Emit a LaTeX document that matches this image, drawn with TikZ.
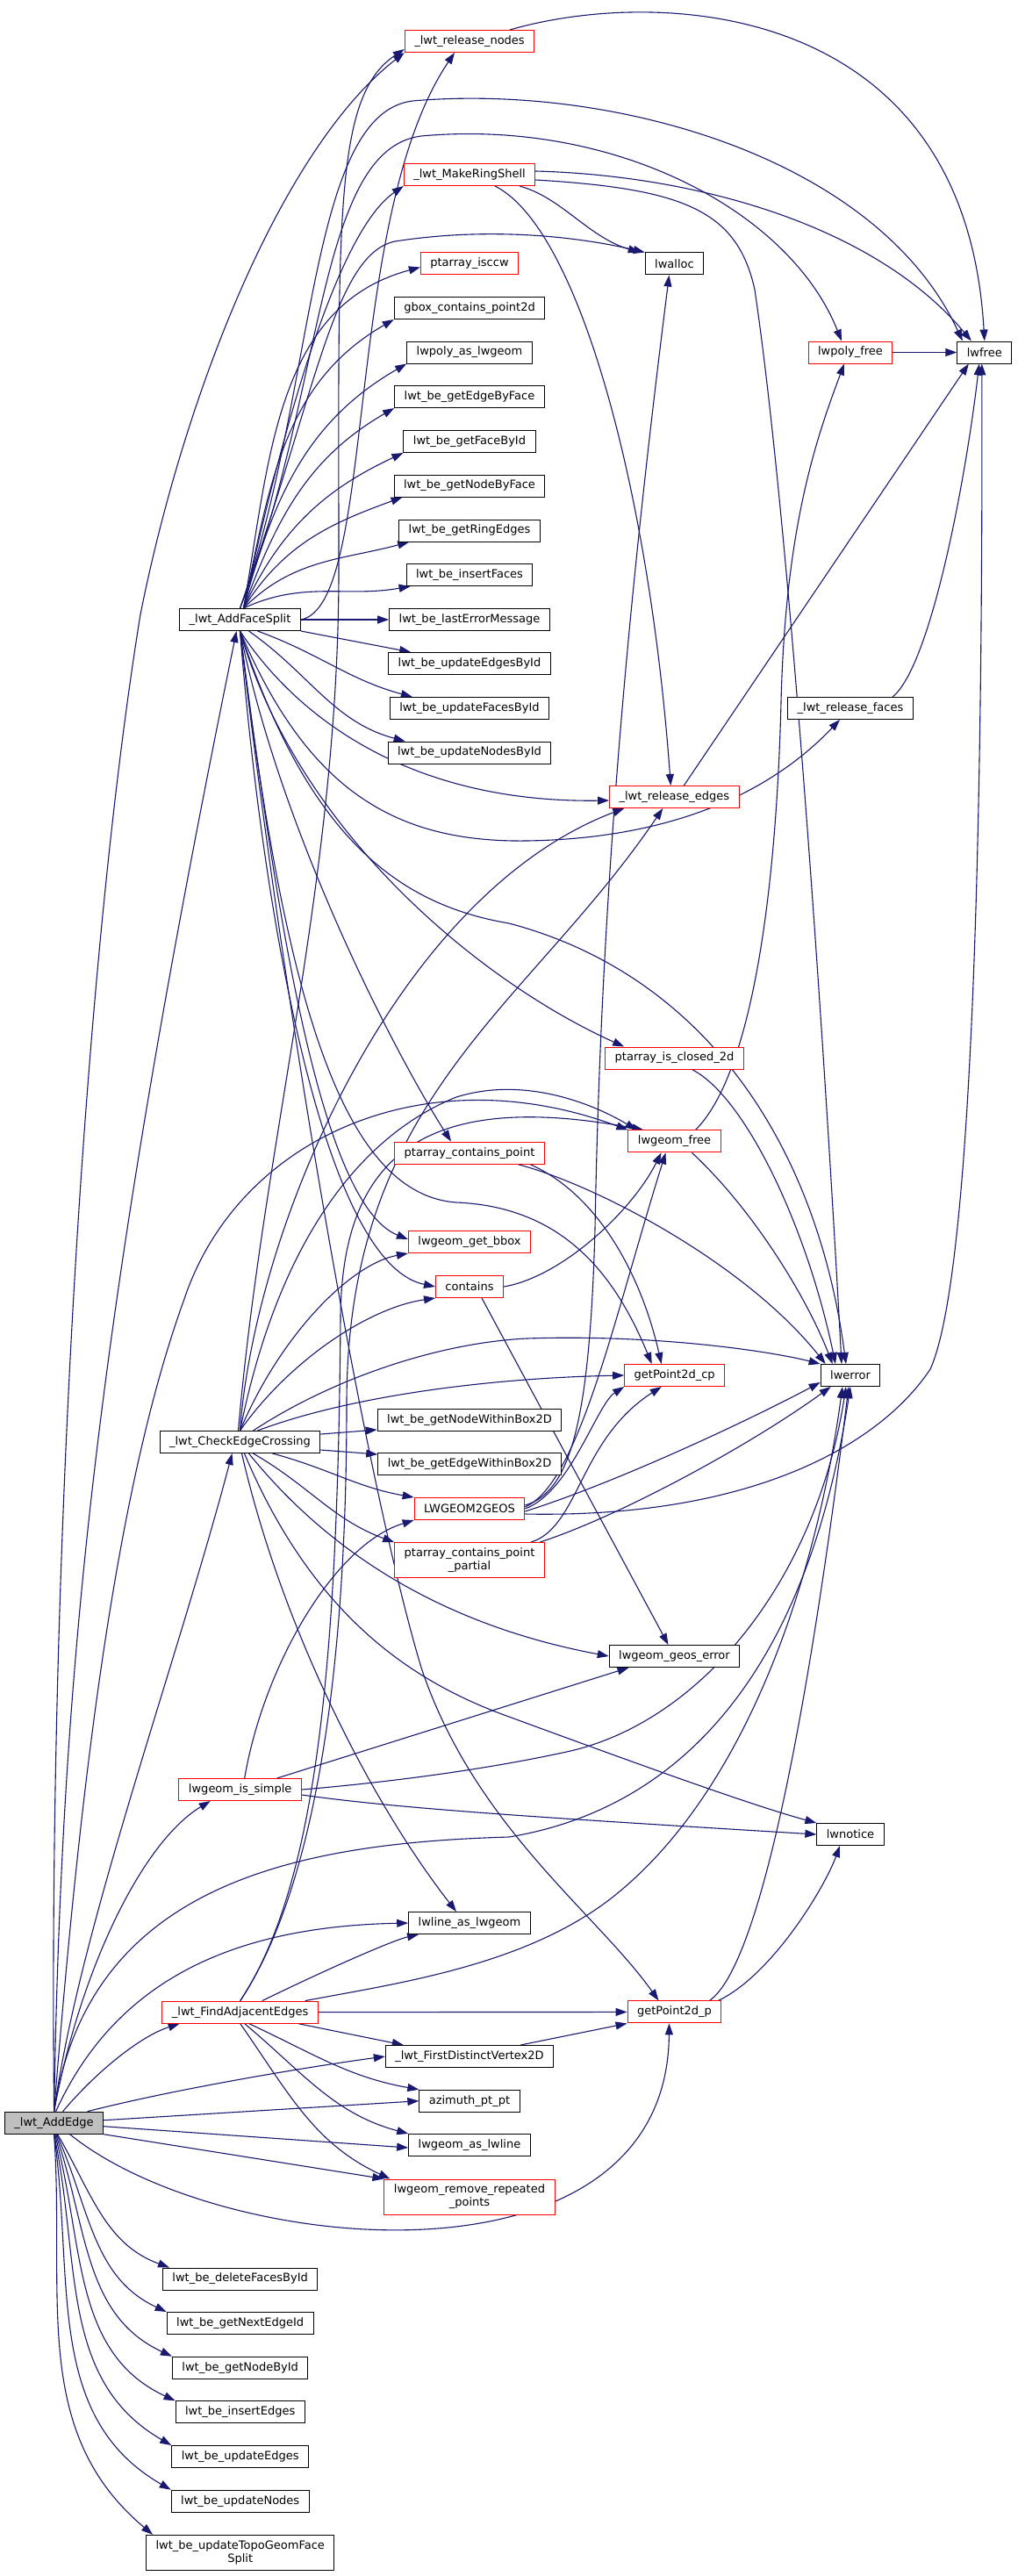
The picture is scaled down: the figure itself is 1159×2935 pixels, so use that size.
\documentclass[tikz,border=0pt]{standalone}
\usepackage{fontspec}
\setmainfont{DejaVu Sans}
\usetikzlibrary{arrows.meta,backgrounds}
\definecolor{edgeblue}{HTML}{191970}
\definecolor{boxred}{HTML}{FF0000}
\definecolor{rootgray}{HTML}{BFBFBF}

\begin{document}
\begin{tikzpicture}[x=1pt,y=-1pt,
    fn/.style={draw=black,line width=1pt,fill=white,inner xsep=11pt,inner ysep=0pt,
               minimum height=25pt,font=\fontsize{13}{15}\selectfont},
    fnred/.style={fn,draw=boxred},
    fnroot/.style={fn,fill=rootgray},
    call/.style={draw=edgeblue,line width=1.1pt,-{Triangle[length=13pt,width=9pt]}}]
      \useasboundingbox (0,0) rectangle (1159,2935);
      % root and left column
      \node[fnroot] (ae) at (61.6,2418.7) {\_lwt\_AddEdge};
      \node[fn] (afs) at (273.5,706) {\_lwt\_AddFaceSplit};
      \node[fn] (ces) at (273.5,1643) {\_lwt\_CheckEdgeCrossing};
      \node[fnred] (issimple) at (273.7,2039) {lwgeom\_is\_simple};
      \node[fnred] (fae) at (273.7,2292.6) {\_lwt\_FindAdjacentEdges};
      \node[fn] (delfaces) at (273.7,2596.5) {lwt\_be\_deleteFacesById};
      \node[fn] (nextedge) at (273.7,2647) {lwt\_be\_getNextEdgeId};
      \node[fn] (nodeid) at (273.7,2697.7) {lwt\_be\_getNodeById};
      \node[fn] (insedges) at (273.7,2748.3) {lwt\_be\_insertEdges};
      \node[fn] (updedges) at (273.7,2799) {lwt\_be\_updateEdges};
      \node[fn] (updnodes) at (273.7,2849.7) {lwt\_be\_updateNodes};
      \node[fn,minimum height=40pt,align=center] (topoface) at (273.7,2908.3) {lwt\_be\_updateTopoGeomFace\\Split};
      % middle column
      \node[fnred] (rnodes) at (535,47) {\_lwt\_release\_nodes};
      \node[fnred] (mkring) at (535,199) {\_lwt\_MakeRingShell};
      \node[fnred] (isccw) at (535,300.5) {ptarray\_isccw};
      \node[fn] (gbox) at (535,351) {gbox\_contains\_point2d};
      \node[fn] (polyas) at (535,401.5) {lwpoly\_as\_lwgeom};
      \node[fn] (edgeface) at (535,452) {lwt\_be\_getEdgeByFace};
      \node[fn] (faceid) at (535,503) {lwt\_be\_getFaceById};
      \node[fn] (nodeface) at (535,553.5) {lwt\_be\_getNodeByFace};
      \node[fn] (ringedges) at (535,604.5) {lwt\_be\_getRingEdges};
      \node[fn] (insfaces) at (535,655) {lwt\_be\_insertFaces};
      \node[fn] (lasterr) at (535,706) {lwt\_be\_lastErrorMessage};
      \node[fn] (updedgesid) at (535,756) {lwt\_be\_updateEdgesById};
      \node[fn] (updfacesid) at (535,807) {lwt\_be\_updateFacesById};
      \node[fn] (updnodesid) at (535,857.5) {lwt\_be\_updateNodesById};
      \node[fnred] (containspt) at (535,1313.6) {ptarray\_contains\_point};
      \node[fnred] (bbox) at (535,1415) {lwgeom\_get\_bbox};
      \node[fnred] (contains) at (535,1466) {contains};
      \node[fn] (nodewithin) at (535,1618) {lwt\_be\_getNodeWithinBox2D};
      \node[fn] (edgewithin) at (535,1668) {lwt\_be\_getEdgeWithinBox2D};
      \node[fnred] (togeos) at (535,1719) {LWGEOM2GEOS};
      \node[fnred,minimum height=40pt,align=center] (partial) at (535,1777.6) {ptarray\_contains\_point\\\_partial};
      \node[fn] (lineas) at (535,2191) {lwline\_as\_lwgeom};
      \node[fn] (firstvtx) at (535,2343) {\_lwt\_FirstDistinctVertex2D};
      \node[fn] (azimuth) at (535,2393.7) {azimuth\_pt\_pt};
      \node[fn] (asline) at (535,2444) {lwgeom\_as\_lwline};
      \node[fnred,minimum height=40pt,align=center] (rmrep) at (535,2503) {lwgeom\_remove\_repeated\\\_points};
      % right columns
      \node[fn] (lwalloc) at (768.5,300.5) {lwalloc};
      \node[fnred] (redges) at (768.3,908) {\_lwt\_release\_edges};
      \node[fnred] (isclosed) at (768.5,1205.5) {ptarray\_is\_closed\_2d};
      \node[fnred] (lgfree) at (768.5,1300.4) {lwgeom\_free};
      \node[fnred] (gpcp) at (768.7,1567) {getPoint2d\_cp};
      \node[fn] (geoserr) at (768.5,1887) {lwgeom\_geos\_error};
      \node[fnred] (gp) at (768.5,2292.4) {getPoint2d\_p};
      \node[fnred] (polyfree) at (969,401.5) {lwpoly\_free};
      \node[fn] (rfaces) at (969,807) {\_lwt\_release\_faces};
      \node[fn] (lwerror) at (969,1567) {lwerror};
      \node[fn] (lwnotice) at (969,2090) {lwnotice};
      \node[fn] (lwfree) at (1121.8,401.5) {lwfree};

      \begin{scope}[on background layer]
        \fill[white] (0,0) rectangle (1159,2935);
        % calls of _lwt_AddEdge
        \draw[call] (ae.north) .. controls (55,1800) and (95,1100) .. (160,700) .. controls (210,450) and (320,170) .. (rnodes.south west);
        \draw[call] (ae.north) .. controls (70,1900) and (110,1500) .. ([xshift=-4pt]afs.south);
        \draw[call] (ae.north) .. controls (90,2050) and (130,1700) .. (210,1480) .. controls (270,1300) and (480,1200) .. (lgfree.north west);
        \draw[call] (ae.north) .. controls (90,2200) and (200,1900) .. ([xshift=-9pt]ces.south);
        \draw[call] (ae.north) .. controls (100,2150) and (330,2100) .. (580,2093) .. controls (780,2060) and (920,1900) .. (lwerror.south);
        \draw[call] (ae.north) .. controls (90,2250) and (160,2100) .. ([xshift=-34pt]issimple.south);
        \draw[call] ([xshift=10pt]ae.north) .. controls (110,2360) and (160,2320) .. ([xshift=-69pt]fae.south);
        \draw[call] ([xshift=2pt]ae.north) .. controls (130,2260) and (260,2195) .. (lineas.west);
        \draw[call] ([xshift=38pt]ae.north) .. controls (200,2380) and (350,2355) .. (firstvtx.west);
        \draw[call] ([yshift=3pt]ae.east) -- (azimuth.west);
        \draw[call] ([yshift=-4pt]ae.east) -- ([yshift=-3pt]asline.west);
        \draw[call] (ae.south east) -- (rmrep.north west);
        \draw[call] ([xshift=18pt]ae.south) .. controls (250,2570) and (760,2620) .. ([xshift=-6pt]gp.south);
        \draw[call] ([xshift=4pt]ae.south) to[out=-60,in=160] ([xshift=8pt]delfaces.north west);
        \draw[call] ([xshift=3pt]ae.south) to[out=-66,in=155] (nextedge.north west);
        \draw[call] ([xshift=2pt]ae.south) to[out=-71,in=155] (nodeid.north west);
        \draw[call] ([xshift=1pt]ae.south) to[out=-75,in=155] (insedges.north west);
        \draw[call] (ae.south) to[out=-78,in=150] (updedges.north west);
        \draw[call] (ae.south) to[out=-82,in=150] (updnodes.north west);
        \draw[call] (ae.south) to[out=-86,in=140] ([xshift=8pt]topoface.north west);
        % calls of _lwt_AddFaceSplit
        \draw[call] (afs.east) .. controls (430,690) and (390,250) .. ([xshift=-17pt]rnodes.south);
        \draw[call] ([xshift=4pt]afs.north) .. controls (330,450) and (390,260) .. (mkring.south west);
        \draw[call] (afs.north) .. controls (360,450) and (350,130) .. (470,115) .. controls (700,95) and (1000,180) .. ([xshift=-25pt]lwfree.north);
        \draw[call] (afs.north) .. controls (370,450) and (360,170) .. (480,155) .. controls (700,135) and (900,240) .. ([xshift=-10pt]polyfree.north);
        \draw[call] (afs.north) .. controls (360,450) and (380,290) .. (450,275) .. controls (560,258) and (660,270) .. (lwalloc.north west);
        \draw[call] ([xshift=4pt]afs.north) to[out=80,in=195] ([yshift=-4pt]isccw.west);
        \draw[call] ([xshift=4pt]afs.north) to[out=78,in=210] (gbox.south west);
        \draw[call] ([xshift=4pt]afs.north) to[out=75,in=210] (polyas.south west);
        \draw[call] ([xshift=4pt]afs.north) to[out=70,in=210] (edgeface.south west);
        \draw[call] ([xshift=4pt]afs.north) to[out=65,in=205] (faceid.south west);
        \draw[call] ([xshift=4pt]afs.north) to[out=58,in=200] ([xshift=10pt]nodeface.south west);
        \draw[call] ([xshift=4pt]afs.north) to[out=45,in=195] ([xshift=12pt]ringedges.south west);
        \draw[call] ([xshift=4pt]afs.north) to[out=25,in=190] ([xshift=5pt]insfaces.south west);
        \draw[call] (afs.east) -- (lasterr.west);
        \draw[call] (afs.south east) -- ([xshift=26pt]updedgesid.north west);
        \draw[call] ([xshift=20pt]afs.south) to[out=-20,in=165] ([xshift=26pt]updfacesid.north west);
        \draw[call] ([xshift=10pt]afs.south) to[out=-35,in=165] ([xshift=20pt]updnodesid.north west);
        \draw[call] (afs.south) .. controls (340,820) and (470,915) .. ([yshift=-4pt]redges.west);
        \draw[call] (afs.south) .. controls (350,900) and (450,960) .. (600,958) .. controls (800,955) and (900,880) .. ([xshift=-12pt]rfaces.south);
        \draw[call] (afs.south) .. controls (350,950) and (450,1030) .. (580,1052) .. controls (800,1110) and (930,1300) .. ([xshift=-5pt]lwerror.north);
        \draw[call] (afs.south) .. controls (340,950) and (550,1120) .. ([xshift=22pt]isclosed.north west);
        \draw[call] (afs.south) .. controls (320,950) and (450,1200) .. ([xshift=-21pt]containspt.north);
        \draw[call] (afs.south) .. controls (310,1000) and (360,1370) .. ([yshift=3pt]bbox.west);
        \draw[call] (afs.south) .. controls (300,1050) and (370,1440) .. (contains.west);
        \draw[call] (afs.south) .. controls (320,1100) and (380,1360) .. (520,1370) .. controls (640,1375) and (700,1450) .. ([xshift=-26pt]gpcp.north);
        \draw[call] (afs.south) .. controls (330,1200) and (420,1700) .. (480,1900) .. controls (540,2080) and (680,2180) .. ([xshift=-18pt]gp.north);
        % calls of _lwt_CheckEdgeCrossing
        \draw[call] ([xshift=-2pt]ces.north) .. controls (300,1300) and (386,1000) .. (386,650) .. controls (386,250) and (380,110) .. ([yshift=4pt]rnodes.south west);
        \draw[call] (ces.north) .. controls (290,1400) and (450,1020) .. ([xshift=-57pt]redges.south);
        \draw[call] (ces.north) .. controls (320,1400) and (420,1290) .. (520,1250) .. controls (600,1225) and (680,1260) .. ([xshift=10pt]lgfree.north west);
        \draw[call] (ces.north) .. controls (320,1520) and (400,1440) .. (bbox.south west);
        \draw[call] (ces.north) .. controls (330,1550) and (420,1490) .. (contains.south west);
        \draw[call] ([xshift=15pt]ces.north) .. controls (380,1570) and (500,1530) .. (600,1525) .. controls (750,1520) and (880,1540) .. (lwerror.north west);
        \draw[call] ([xshift=20pt]ces.north) .. controls (400,1590) and (560,1570) .. (gpcp.west);
        \draw[call] ([yshift=9pt]ces.east) -- ([yshift=-11pt]nodewithin.west);
        \draw[call] ([yshift=-9pt]ces.east) -- ([yshift=11pt]edgewithin.west);
        \draw[call] ([xshift=37pt]ces.south) to[out=-15,in=170] (togeos.north west);
        \draw[call] ([xshift=15pt]ces.south) to[out=-30,in=160] (partial.north west);
        \draw[call] ([xshift=10pt]ces.south) .. controls (400,1800) and (550,1860) .. (geoserr.west);
        \draw[call] ([xshift=5pt]ces.south) .. controls (360,1850) and (480,1920) .. (580,1956) .. controls (700,2000) and (850,2055) .. (lwnotice.north west);
        \draw[call] ([xshift=2pt]ces.south) .. controls (320,1850) and (420,2050) .. ([xshift=-15pt]lineas.north);
        % calls of lwgeom_is_simple
        \draw[call] ([xshift=5pt]issimple.north) .. controls (300,1900) and (380,1760) .. (togeos.south west);
        \draw[call] ([xshift=42pt]issimple.north) -- ([xshift=-52pt]geoserr.south);
        \draw[call] (issimple.east) .. controls (450,2030) and (560,2015) .. (650,1995) .. controls (800,1960) and (930,1800) .. ([xshift=-5pt]lwerror.south);
        \draw[call] ([yshift=-6pt]issimple.east) .. controls (450,2060) and (600,2070) .. (lwnotice.west);
        % calls of _lwt_FindAdjacentEdges
        \draw[call] ([xshift=25pt]fae.north) .. controls (380,2240) and (450,2210) .. ([xshift=-58pt]lineas.south);
        \draw[call] ([xshift=74pt]fae.north) .. controls (450,2260) and (600,2240) .. (700,2160) .. controls (850,2040) and (930,1800) .. ([xshift=-9pt]lwerror.south);
        \draw[call] (fae.east) -- (gp.west);
        \draw[call] ([xshift=66pt]fae.south) -- ([xshift=21pt]firstvtx.north west);
        \draw[call] ([xshift=10pt]fae.south) to[out=-25,in=170] (azimuth.north west);
        \draw[call] ([xshift=5pt]fae.south) to[out=-40,in=165] (asline.north west);
        \draw[call] (fae.south) to[out=-55,in=155] ([xshift=7pt]rmrep.north west);
        \draw[call] (fae.north) .. controls (360,2150) and (395,1900) .. (395,1600) .. controls (395,1250) and (600,1150) .. ([xshift=-13pt]redges.south);
        \draw[call] (fae.north) .. controls (360,2150) and (385,1900) .. (388,1500) .. controls (390,1320) and (480,1240) .. ([xshift=18pt]lgfree.north west);
        % calls of _lwt_MakeRingShell
        \draw[call] ([xshift=57pt]mkring.south) .. controls (640,225) and (670,270) .. ([xshift=-6pt]lwalloc.north west);
        \draw[call] ([yshift=4pt]mkring.east) .. controls (800,200) and (1000,260) .. ([xshift=-15pt]lwfree.north);
        \draw[call] ([yshift=-6pt]mkring.east) .. controls (780,215) and (840,240) .. (860,330) .. controls (900,600) and (940,1200) .. ([xshift=-10pt]lwerror.north);
        \draw[call] ([xshift=29pt]mkring.south) .. controls (660,260) and (740,560) .. ([xshift=-4pt]redges.north);
        % remaining calls
        \draw[call] ([xshift=46pt]rnodes.north) .. controls (750,-15) and (1100,0) .. (lwfree.north);
        \draw[call] (polyfree.east) -- (lwfree.west);
        \draw[call] ([xshift=48pt]rfaces.north) .. controls (1060,760) and (1100,550) .. ([xshift=-6pt]lwfree.south);
        \draw[call] ([xshift=11pt]redges.north) -- ([xshift=-18pt]lwfree.south);
        \draw[call] ([xshift=20pt]isclosed.south) .. controls (850,1250) and (920,1400) .. ([xshift=-17pt]lwerror.north);
        \draw[call] ([xshift=24pt]lgfree.north) .. controls (860,1220) and (885,1000) .. (890,800) .. controls (895,600) and (930,500) .. ([xshift=-7pt]polyfree.south);
        \draw[call] ([xshift=20pt]lgfree.south) .. controls (860,1380) and (920,1480) .. ([xshift=14pt]lwerror.north west);
        \draw[call] ([xshift=69pt]containspt.south) .. controls (680,1360) and (730,1450) .. ([xshift=-15pt]gpcp.north);
        \draw[call] ([xshift=55pt]containspt.south) .. controls (680,1350) and (850,1440) .. ([xshift=6pt]lwerror.north west);
        \draw[call] (contains.east) .. controls (640,1455) and (720,1380) .. ([xshift=-15pt]lgfree.south);
        \draw[call] ([xshift=14pt]contains.south) -- ([xshift=-7pt]geoserr.north);
        \draw[call] ([yshift=4pt]togeos.east) .. controls (650,1700) and (672,1620) .. (678,1400) .. controls (685,1000) and (720,650) .. ([xshift=-6pt]lwalloc.south);
        \draw[call] ([yshift=2pt]togeos.east) .. controls (660,1690) and (700,1500) .. ([xshift=-10pt]lgfree.south);
        \draw[call] (togeos.east) .. controls (650,1700) and (680,1600) .. (gpcp.south west);
        \draw[call] ([yshift=-3pt]togeos.east) .. controls (700,1690) and (850,1620) .. ([yshift=-8pt]lwerror.west);
        \draw[call] ([yshift=-6pt]togeos.east) .. controls (850,1730) and (1000,1650) .. (1060,1560) .. controls (1110,1450) and (1120,900) .. ([xshift=-3pt]lwfree.south);
        \draw[call] ([xshift=70pt]partial.north) .. controls (660,1740) and (660,1640) .. ([xshift=-15pt]gpcp.south);
        \draw[call] ([xshift=80pt]partial.north) .. controls (700,1730) and (850,1650) .. ([xshift=12pt]lwerror.south west);
        \draw[call] ([xshift=40pt]gp.north) .. controls (880,2230) and (940,1800) .. ([xshift=-2pt]lwerror.south);
        \draw[call] ([xshift=50pt]gp.north) .. controls (880,2250) and (940,2150) .. ([xshift=-12pt]lwnotice.south);
        \draw[call] ([xshift=-38pt]firstvtx.north east) -- (gp.south west);
      \end{scope}
    \end{tikzpicture}
\end{document}
